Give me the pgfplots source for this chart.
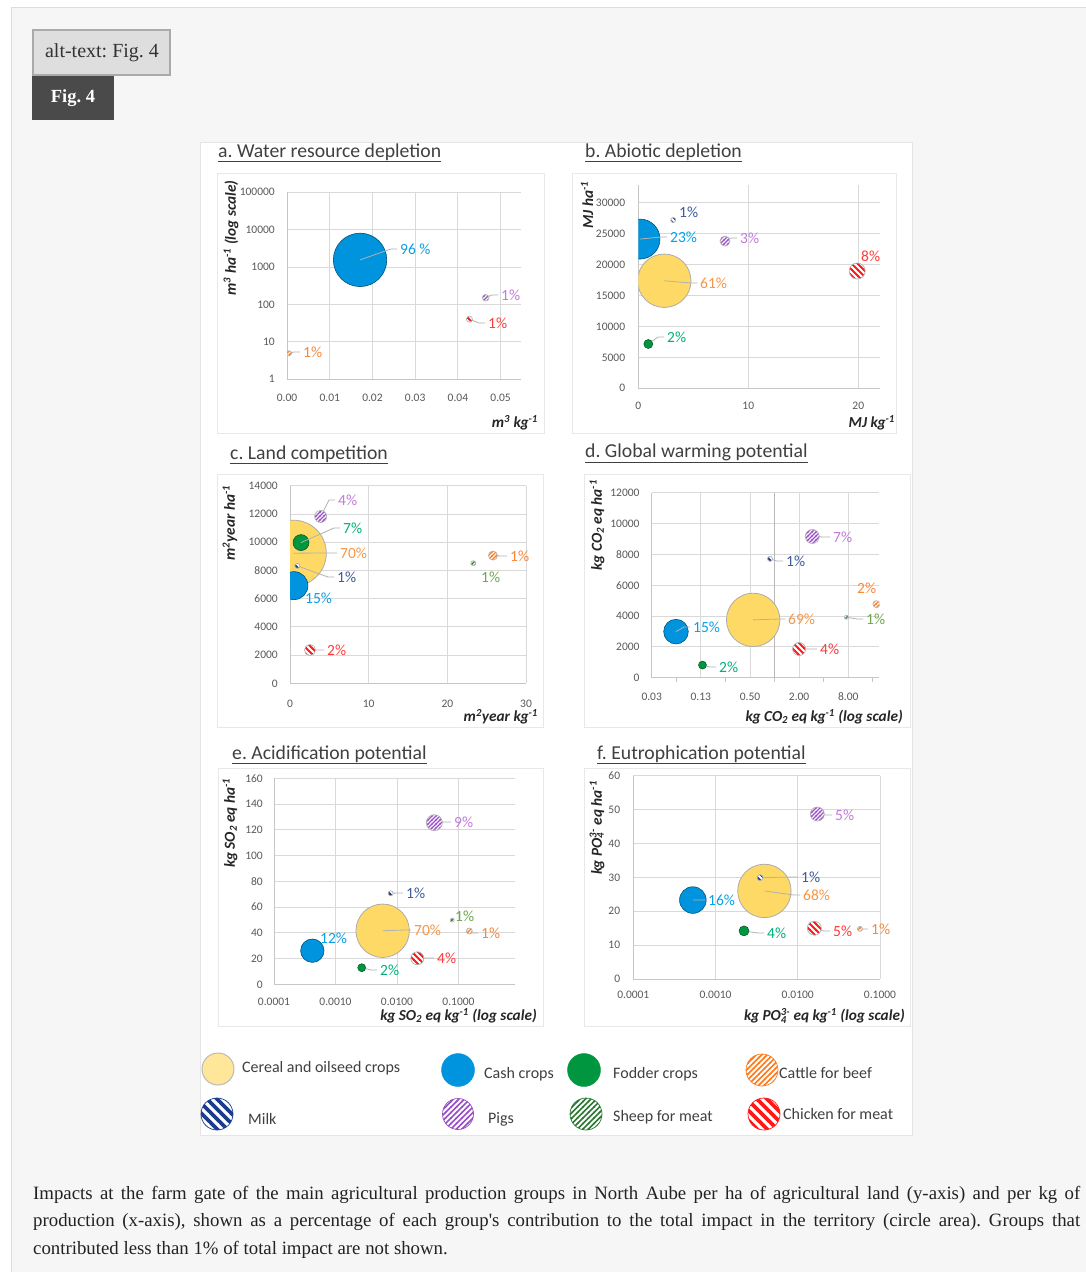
\documentclass[border=0pt]{standalone}
\usepackage{fontspec}
\setmainfont{Liberation Serif}
\newfontfamily\carl{Carlito}
\usepackage{pgfplots}
\pgfplotsset{compat=1.18}
\usetikzlibrary{patterns}

\definecolor{pagebg}{HTML}{F6F6F6}
\definecolor{pageborder}{HTML}{DDDDDD}
\definecolor{altbg}{HTML}{DEDEDE}
\definecolor{altborder}{HTML}{AAAAAA}
\definecolor{figbg}{HTML}{4A4A4A}
\definecolor{txt}{HTML}{222222}
\definecolor{ctxt}{HTML}{404040}
\definecolor{tickc}{HTML}{595959}
\definecolor{gridc}{HTML}{D9D9D9}
\definecolor{yellowc}{HTML}{FFD966}
\definecolor{yellowl}{HTML}{FFE699}
\definecolor{bluec}{HTML}{0094DE}
\definecolor{greenc}{HTML}{00963F}
\definecolor{patorange}{HTML}{FF7A1A}
\definecolor{patnavy}{HTML}{1B3D8C}
\definecolor{patpurple}{HTML}{9B4FC4}
\definecolor{patgreen}{HTML}{2B7A31}
\definecolor{patred}{HTML}{FF1A1A}
\definecolor{lcer}{HTML}{F79646}
\definecolor{lcash}{HTML}{0AA0E6}
\definecolor{lfod}{HTML}{00B07A}
\definecolor{lmilk}{HTML}{3E5B9A}
\definecolor{lpig}{HTML}{C27BDB}
\definecolor{lchk}{HTML}{FF3B3B}
\definecolor{lcat}{HTML}{F7883C}
\definecolor{lshp}{HTML}{70A84E}

% hatch patterns
\pgfdeclarepatternformonly{hNE}{\pgfqpoint{-1pt}{-1pt}}{\pgfqpoint{5pt}{5pt}}{\pgfqpoint{4pt}{4pt}}{\pgfsetlinewidth{1.2pt}\pgfpathmoveto{\pgfqpoint{-0.5pt}{-0.5pt}}\pgfpathlineto{\pgfqpoint{4.5pt}{4.5pt}}\pgfusepath{stroke}}
\pgfdeclarepatternformonly{hNW}{\pgfqpoint{-1pt}{-1pt}}{\pgfqpoint{7pt}{7pt}}{\pgfqpoint{6pt}{6pt}}{\pgfsetlinewidth{2pt}\pgfpathmoveto{\pgfqpoint{-0.5pt}{6.5pt}}\pgfpathlineto{\pgfqpoint{6.5pt}{-0.5pt}}\pgfusepath{stroke}}
\pgfdeclarepatternformonly{bNE}{\pgfqpoint{-1pt}{-1pt}}{\pgfqpoint{6.5pt}{6.5pt}}{\pgfqpoint{5.5pt}{5.5pt}}{\pgfsetlinewidth{1.6pt}\pgfpathmoveto{\pgfqpoint{-0.5pt}{-0.5pt}}\pgfpathlineto{\pgfqpoint{6pt}{6pt}}\pgfusepath{stroke}}
\pgfdeclarepatternformonly{bNW}{\pgfqpoint{-1pt}{-1pt}}{\pgfqpoint{11pt}{11pt}}{\pgfqpoint{10pt}{10pt}}{\pgfsetlinewidth{3.6pt}\pgfpathmoveto{\pgfqpoint{-0.5pt}{10.5pt}}\pgfpathlineto{\pgfqpoint{10.5pt}{-0.5pt}}\pgfusepath{stroke}}

\newcommand\defhatch[4]{\pgfdeclareplotmark{#1}{%
 \pgfscope\pgfpathcircle{\pgfpointorigin}{\pgfplotmarksize}\pgfsetfillcolor{white}\pgfusepath{fill}\endpgfscope
 \pgfscope\pgfpathcircle{\pgfpointorigin}{\pgfplotmarksize}\pgfsetfillpattern{#2}{#3}\pgfusepath{fill}\endpgfscope
 \pgfscope\pgfpathcircle{\pgfpointorigin}{\pgfplotmarksize}\pgfsetstrokecolor{#4}\pgfsetlinewidth{0.7pt}\pgfusepath{stroke}\endpgfscope}}
\defhatch{mcat}{hNE}{patorange}{gray!60}
\defhatch{mmilk}{hNW}{patnavy}{gray!60}
\defhatch{mpig}{hNE}{patpurple}{gray!60}
\defhatch{mshp}{hNE}{patgreen}{gray!60}
\defhatch{mchk}{hNW}{patred}{gray!60}
\defhatch{Lcat}{bNE}{patorange}{patorange}
\defhatch{Lmilk}{bNW}{patnavy}{patnavy}
\defhatch{Lpig}{bNE}{patpurple}{patpurple}
\defhatch{Lshp}{bNE}{patgreen}{patgreen}
\defhatch{Lchk}{bNW}{patred}{patred}

\pgfplotsset{
 panel/.style={scale only axis, anchor=south west,
   axis x line=bottom, axis y line=left,
   axis line style={draw=gray!45, line width=0.8pt, -},
   grid=major, grid style={draw=gridc, line width=0.8pt},
   major tick length=0pt, minor tick length=0pt,
   scaled ticks=false,
   clip marker paths=true,
   ticklabel style={font=\carl\fontsize{11.5}{11.5}\selectfont, text=tickc, inner sep=0pt},
   xticklabel style={anchor=center}, yticklabel style={anchor=east}},
 cer/.style={only marks, mark=*, mark options={fill=yellowc, draw=gray!65, line width=0.8pt}},
 cash/.style={only marks, mark=*, mark options={fill=bluec, draw=bluec!55!black, line width=0.6pt}},
 fod/.style={only marks, mark=*, mark options={fill=greenc, draw=greenc!55!black, line width=0.5pt}},
 cat/.style={only marks, mark=mcat},
 milk/.style={only marks, mark=mmilk},
 pig/.style={only marks, mark=mpig},
 shp/.style={only marks, mark=mshp},
 chk/.style={only marks, mark=mchk},
}

\tikzset{
 pct/.style={anchor=west, inner sep=0pt, font=\carl\fontsize{15.5}{15.5}\selectfont},
 ttl/.style={anchor=base west, inner sep=0pt, font=\carl\fontsize{19.7}{19.7}\selectfont, text=ctxt},
 ylab/.style={rotate=90, anchor=center, inner sep=0pt, font=\carl\bfseries\itshape\fontsize{15.3}{15.3}\selectfont, text=black!85},
 xlab/.style={anchor=east, inner sep=0pt, font=\carl\bfseries\itshape\fontsize{15.3}{15.3}\selectfont, text=black!85},
 leg/.style={anchor=west, inner sep=0pt, font=\carl\fontsize{16}{16}\selectfont, text=ctxt},
 captxt/.style={anchor=base west, inner sep=0pt, text=txt, font=\fontsize{18.8}{18.8}\selectfont},
}
\newcommand\lab[6]{\draw[gray!60, line width=0.8pt, shorten <=#2pt] (#1) -- (#3-9,#4) -- (#3-3,#4); \node[pct, text=#5] at (#3,#4) {#6};}
\newcommand\labn[4]{\node[pct, text=#3] at (#1,#2) {#4};}

\begin{document}
\frenchspacing
\begin{tikzpicture}
\useasboundingbox (0pt,0pt) rectangle (1085pt,-1272pt);
\begin{scope}[x=1pt,y=-1pt]
\fill[white] (0,0) rectangle (1085,1272);
\filldraw[fill=pagebg, draw=pageborder, line width=1pt] (11,7) rectangle (1095,1285);
\filldraw[fill=altbg, draw=altborder, line width=2pt] (33,30) rectangle (170,75);
\node[inner sep=0pt, text=black!80, font=\fontsize{20}{20}\selectfont] at (102,53) {alt-text: Fig. 4};
\fill[figbg] (32,76) rectangle (114,119.5);
\node[inner sep=0pt, text=white, font=\bfseries\fontsize{18.5}{18.5}\selectfont] at (73,98) {Fig. 4};
\filldraw[fill=white, draw=gray!20, line width=0.8pt] (200,142) rectangle (912,1135);
\draw[gray!18, line width=1pt] (217,173) rectangle (544,433);
\draw[gray!18, line width=1pt] (572,173) rectangle (896,433);
\draw[gray!18, line width=1pt] (217,474) rectangle (543,727);
\draw[gray!18, line width=1pt] (584,474) rectangle (910,727);
\draw[gray!18, line width=1pt] (218,768) rectangle (543,1026);
\draw[gray!18, line width=1pt] (584,768) rectangle (910,1026);
\node[ttl] at (218,157) {\underline{a. Water resource depletion}};
\node[ttl] at (585,157) {\underline{b. Abiotic depletion}};
\node[ttl] at (230,459) {\underline{c. Land competition}};
\node[ttl] at (585,457) {\underline{d. Global warming potential}};
\node[ttl] at (232,759) {\underline{e. Acidification potential}};
\node[ttl] at (597,759) {\underline{f. Eutrophication potential}};
% axis titles
\node[ylab] at (231,238) {m\textsuperscript{3} ha\textsuperscript{-1} (log scale)};
\node[xlab] at (538,423) {m\textsuperscript{3} kg\textsuperscript{-1}};
\node[ylab] at (587,205) {MJ ha\textsuperscript{-1}};
\node[xlab] at (895,423) {MJ kg\textsuperscript{-1}};
\node[ylab] at (230,523) {m\textsuperscript{2}year ha\textsuperscript{-1}};
\node[xlab] at (538,717) {m\textsuperscript{2}year kg\textsuperscript{-1}};
\node[ylab] at (597,525) {kg CO\textsubscript{2} eq ha\textsuperscript{-1}};
\node[xlab] at (903,717) {kg CO\textsubscript{2} eq kg\textsuperscript{-1} (log scale)};
\node[ylab] at (230,823) {kg SO\textsubscript{2} eq ha\textsuperscript{-1}};
\node[xlab] at (537,1016) {kg SO\textsubscript{2} eq kg\textsuperscript{-1} (log scale)};
\node[ylab] at (597,828) {kg PO\rlap{\textsubscript{4}}\textsuperscript{3-} eq ha\textsuperscript{-1}};
\node[xlab] at (905,1016) {kg PO\rlap{\textsubscript{4}}\textsuperscript{3-} eq kg\textsuperscript{-1} (log scale)};
% caption
\node[captxt] at (33,1199) {\hbox to 1047pt{Impacts at the farm gate of the main agricultural production groups in North Aube per ha of agricultural land (y-axis) and per kg of}};
\node[captxt] at (33,1226) {\hbox to 1047pt{production (x-axis), shown as a percentage of each group\textquotesingle s contribution to the total impact in the territory (circle area). Groups that}};
\node[captxt] at (33,1254) {contributed less than 1\% of total impact are not shown.};
\end{scope}

% ---------- a. Water resource depletion
\begin{axis}[panel, at={(287pt,-379pt)}, width=233.7pt, height=186.7pt,
  xmin=0, xmax=0.0547, ymode=log, ymin=1, ymax=100000,
  xtick={0,0.01,0.02,0.03,0.04,0.05}, xticklabels={0.00,0.01,0.02,0.03,0.04,0.05},
  ytick={1,10,100,1000,10000,100000}, yticklabels={1,10,100,1000,10000,100000},
  xticklabel style={yshift=-19pt}, yticklabel style={xshift=-12pt}]
\addplot[cash, mark size=26.7] coordinates {(0.0171,1550)};
\addplot[pig, mark size=3.3] coordinates {(0.0465,150)};
\addplot[chk, mark size=3] coordinates {(0.0427,40)};
\addplot[cat, mark size=2.5] coordinates {(0.0005,4.9)};
\coordinate (a1) at (axis cs:0.0171,1550);
\coordinate (a2) at (axis cs:0.0465,150);
\coordinate (a3) at (axis cs:0.0427,40);
\coordinate (a4) at (axis cs:0.0005,4.9);
\end{axis}

% ---------- b. Abiotic depletion
\begin{axis}[panel, at={(638.3pt,-388.3pt)}, width=242pt, height=203.3pt,
  xmin=0, xmax=22, ymin=0, ymax=32800,
  xtick={0,10,20}, xticklabels={0,10,20},
  ytick={0,5000,10000,15000,20000,25000,30000}, yticklabels={0,5000,10000,15000,20000,25000,30000},
  xticklabel style={yshift=-18pt}, yticklabel style={xshift=-13pt}]
\addplot[cer, mark size=26.7] coordinates {(2.36,17350)};
\addplot[cash, mark size=20] coordinates {(0.15,24080)};
\addplot[milk, mark size=2.5] coordinates {(3.18,27150)};
\addplot[pig, mark size=5] coordinates {(7.88,23750)};
\addplot[chk, mark size=8] coordinates {(19.9,18920)};
\addplot[fod, mark size=4.5] coordinates {(0.91,7150)};
\coordinate (b1) at (axis cs:0.15,24080);
\coordinate (b2) at (axis cs:2.36,17350);
\coordinate (b4) at (axis cs:7.88,23750);
\coordinate (b6) at (axis cs:0.91,7150);
\end{axis}

% ---------- c. Land competition
\begin{axis}[panel, at={(290pt,-683.3pt)}, width=236pt, height=197.6pt,
  xmin=0, xmax=30, ymin=0, ymax=14000,
  xtick={0,10,20,30}, xticklabels={0,10,20,30},
  ytick={0,2000,4000,6000,8000,10000,12000,14000}, yticklabels={0,2000,4000,6000,8000,10000,12000,14000},
  xticklabel style={yshift=-20pt}, yticklabel style={xshift=-12pt}]
\addplot[cer, mark size=33] coordinates {(0.42,9220)};
\addplot[cash, mark size=14] coordinates {(0.5,6920)};
\addplot[fod, mark size=8] coordinates {(1.4,9970)};
\addplot[pig, mark size=6] coordinates {(3.9,11820)};
\addplot[milk, mark size=2.5] coordinates {(0.93,8320)};
\addplot[chk, mark size=5.5] coordinates {(2.54,2360)};
\addplot[cat, mark size=4.5] coordinates {(25.8,9050)};
\addplot[shp, mark size=2.5] coordinates {(23.3,8510)};
\coordinate (c1) at (axis cs:0.42,9220);
\coordinate (c3) at (axis cs:1.4,9970);
\coordinate (c4) at (axis cs:3.9,11820);
\coordinate (c5) at (axis cs:0.93,8320);
\coordinate (c6) at (axis cs:2.54,2360);
\coordinate (c7) at (axis cs:25.8,9050);
\end{axis}

% ---------- d. Global warming potential
\begin{axis}[panel, at={(651.7pt,-677.7pt)}, width=227.6pt, height=185pt,
  xmode=log, xmin=0.03125, xmax=19.2, ymin=0, ymax=12000,
  xtick={0.03125,0.125,0.5,2,8}, xticklabels={0.03,0.13,0.50,2.00,8.00},
  minor xtick={0.0625,0.25,1,4,16}, minor tick length=4pt, tick align=outside,
  minor tick style={draw=gray!45, line width=0.8pt},
  ytick={0,2000,4000,6000,8000,10000,12000}, yticklabels={0,2000,4000,6000,8000,10000,12000},
  xticklabel style={yshift=-19pt}, yticklabel style={xshift=-12pt}]
\draw[gray!55, line width=1.3pt] (axis cs:1,0) -- (axis cs:1,12000);
\addplot[cer, mark size=26.7] coordinates {(0.547,3750)};
\addplot[cash, mark size=12.3] coordinates {(0.062,2990)};
\addplot[milk, mark size=2.5] coordinates {(0.88,7710)};
\addplot[pig, mark size=7] coordinates {(2.9,9160)};
\addplot[cat, mark size=3.5] coordinates {(17.7,4770)};
\addplot[shp, mark size=2] coordinates {(7.6,3920)};
\addplot[chk, mark size=6.5] coordinates {(2.0,1860)};
\addplot[fod, mark size=4] coordinates {(0.131,820)};
\coordinate (d1) at (axis cs:0.547,3750);
\coordinate (d2) at (axis cs:0.062,2990);
\coordinate (d3) at (axis cs:0.88,7710);
\coordinate (d4) at (axis cs:2.9,9160);
\coordinate (d6) at (axis cs:7.6,3920);
\coordinate (d7) at (axis cs:2.0,1860);
\coordinate (d8) at (axis cs:0.131,820);
\end{axis}

% ---------- e. Acidification potential
\begin{axis}[panel, at={(274pt,-984.3pt)}, width=241pt, height=206pt,
  xmode=log, xmin=0.0001, xmax=0.83, ymin=0, ymax=160,
  xtick={0.0001,0.001,0.01,0.1}, xticklabels={0.0001,0.0010,0.0100,0.1000},
  ytick={0,20,40,60,80,100,120,140,160}, yticklabels={0,20,40,60,80,100,120,140,160},
  xticklabel style={yshift=-18pt}, yticklabel style={xshift=-11pt}]
\addplot[cer, mark size=26.7] coordinates {(0.00585,41.6)};
\addplot[cash, mark size=11.7] coordinates {(0.00042,26.1)};
\addplot[fod, mark size=4] coordinates {(0.00267,12.9)};
\addplot[milk, mark size=2.5] coordinates {(0.0079,70.7)};
\addplot[pig, mark size=8] coordinates {(0.0405,125.5)};
\addplot[shp, mark size=2] coordinates {(0.079,49.9)};
\addplot[cat, mark size=3] coordinates {(0.15,41.4)};
\addplot[chk, mark size=6.5] coordinates {(0.0214,20.2)};
\coordinate (e1) at (axis cs:0.00585,41.6);
\coordinate (e3) at (axis cs:0.00267,12.9);
\coordinate (e4) at (axis cs:0.0079,70.7);
\coordinate (e5) at (axis cs:0.0405,125.5);
\coordinate (e7) at (axis cs:0.15,41.4);
\coordinate (e8) at (axis cs:0.0214,20.2);
\end{axis}

% ---------- f. Eutrophication potential
\begin{axis}[panel, at={(633.3pt,-979pt)}, width=246.7pt, height=203.3pt,
  xmode=log, xmin=0.0001, xmax=0.1, ymin=0, ymax=60,
  xtick={0.0001,0.001,0.01,0.1}, xticklabels={0.0001,0.0010,0.0100,0.1000},
  ytick={0,10,20,30,40,50,60}, yticklabels={0,10,20,30,40,50,60},
  xticklabel style={yshift=-16pt}, yticklabel style={xshift=-13pt}]
\addplot[cer, mark size=26.7] coordinates {(0.00393,26.0)};
\addplot[cash, mark size=13.3] coordinates {(0.00053,23.3)};
\addplot[milk, mark size=3] coordinates {(0.00348,29.9)};
\addplot[pig, mark size=7] coordinates {(0.0173,48.7)};
\addplot[fod, mark size=5] coordinates {(0.00222,14.2)};
\addplot[chk, mark size=7] coordinates {(0.0159,15.0)};
\addplot[cat, mark size=2.5] coordinates {(0.057,14.8)};
\coordinate (f1) at (axis cs:0.00393,26.0);
\coordinate (f2) at (axis cs:0.00053,23.3);
\coordinate (f3) at (axis cs:0.00348,29.9);
\coordinate (f4) at (axis cs:0.0173,48.7);
\coordinate (f5) at (axis cs:0.00222,14.2);
\coordinate (f6) at (axis cs:0.0159,15.0);
\coordinate (f7) at (axis cs:0.057,14.8);
\end{axis}

% ---------- legend (pixel-coordinate axis)
\begin{axis}[at={(200pt,-1135pt)}, anchor=south west, scale only axis, width=712pt, height=95pt,
  xmin=200, xmax=912, ymin=-1135, ymax=-1040, hide axis, clip=false]
\addplot[only marks, mark=*, mark size=16, mark options={fill=yellowl, draw=gray!55, line width=1pt}] coordinates {(218,-1069)};
\addplot[only marks, mark=*, mark size=16.5, mark options={fill=bluec, draw=bluec}] coordinates {(458,-1070)};
\addplot[only marks, mark=*, mark size=16.5, mark options={fill=greenc, draw=greenc}] coordinates {(584,-1070)};
\addplot[only marks, mark=Lcat, mark size=16] coordinates {(762,-1070)};
\addplot[only marks, mark=Lmilk, mark size=16] coordinates {(217,-1114)};
\addplot[only marks, mark=Lpig, mark size=15.5] coordinates {(458,-1114)};
\addplot[only marks, mark=Lshp, mark size=16] coordinates {(586,-1114)};
\addplot[only marks, mark=Lchk, mark size=16] coordinates {(764,-1114)};
\end{axis}

\begin{scope}[x=1pt,y=-1pt]
% legend text
\node[leg] at (242,1068) {Cereal and oilseed crops};
\node[leg] at (484,1074) {Cash crops};
\node[leg] at (613,1074) {Fodder crops};
\node[leg] at (779,1073) {Cattle for beef};
\node[leg] at (248,1119) {Milk};
\node[leg] at (488,1119) {Pigs};
\node[leg] at (613,1117) {Sheep for meat};
\node[leg] at (783,1114) {Chicken for meat};
% a labels
\lab{a1}{0}{400}{249}{lcash}{96 \%}
\lab{a2}{3.3}{501}{295}{lpig}{1\%}
\lab{a3}{3}{488}{323}{lchk}{1\%}
\lab{a4}{2.5}{303}{352}{lcat}{1\%}
% b labels
\lab{b1}{0}{670}{237}{lcash}{23\%}
\lab{b2}{0}{700}{283}{lcer}{61\%}
\labn{679}{212}{lmilk}{1\%}
\lab{b4}{5}{740}{238}{lpig}{3\%}
\labn{861}{256}{lchk}{8\%}
\lab{b6}{4.5}{667}{337}{lfod}{2\%}
% c labels
\lab{c1}{0}{340}{553}{lcer}{70\%}
\labn{305}{598}{lcash}{15\%}
\lab{c3}{0}{343}{528}{lfod}{7\%}
\lab{c4}{6}{338}{500}{lpig}{4\%}
\lab{c5}{2.5}{337}{577}{lmilk}{1\%}
\lab{c6}{5.5}{327}{650}{lchk}{2\%}
\lab{c7}{4.5}{510}{556}{lcat}{1\%}
\labn{481}{577}{lshp}{1\%}
% d labels
\lab{d1}{0}{788}{619}{lcer}{69\%}
\lab{d2}{0}{693}{627}{lcash}{15\%}
\lab{d3}{2.5}{786}{561}{lmilk}{1\%}
\lab{d4}{7}{833}{537}{lpig}{7\%}
\labn{857}{588}{lcat}{2\%}
\lab{d6}{2}{866}{619}{lshp}{1\%}
\lab{d7}{6.5}{820}{649}{lchk}{4\%}
\lab{d8}{4}{719}{667}{lfod}{2\%}
% e labels
\lab{e1}{0}{414}{930}{lcer}{70\%}
\labn{320}{938}{lcash}{12\%}
\lab{e3}{4}{380}{970}{lfod}{2\%}
\lab{e4}{2.5}{406}{893}{lmilk}{1\%}
\lab{e5}{8}{454}{822}{lpig}{9\%}
\labn{455}{916}{lshp}{1\%}
\lab{e7}{3}{481}{933}{lcat}{1\%}
\lab{e8}{6.5}{437}{958}{lchk}{4\%}
% f labels
\lab{f1}{0}{803}{895}{lcer}{68\%}
\lab{f2}{0}{708}{900}{lcash}{16\%}
\lab{f3}{3}{801}{877}{lmilk}{1\%}
\lab{f4}{7}{835}{815}{lpig}{5\%}
\lab{f5}{5}{767}{933}{lfod}{4\%}
\lab{f6}{7}{833}{931}{lchk}{5\%}
\lab{f7}{2.5}{871}{929}{lcat}{1\%}
\end{scope}
\end{tikzpicture}
\end{document}
